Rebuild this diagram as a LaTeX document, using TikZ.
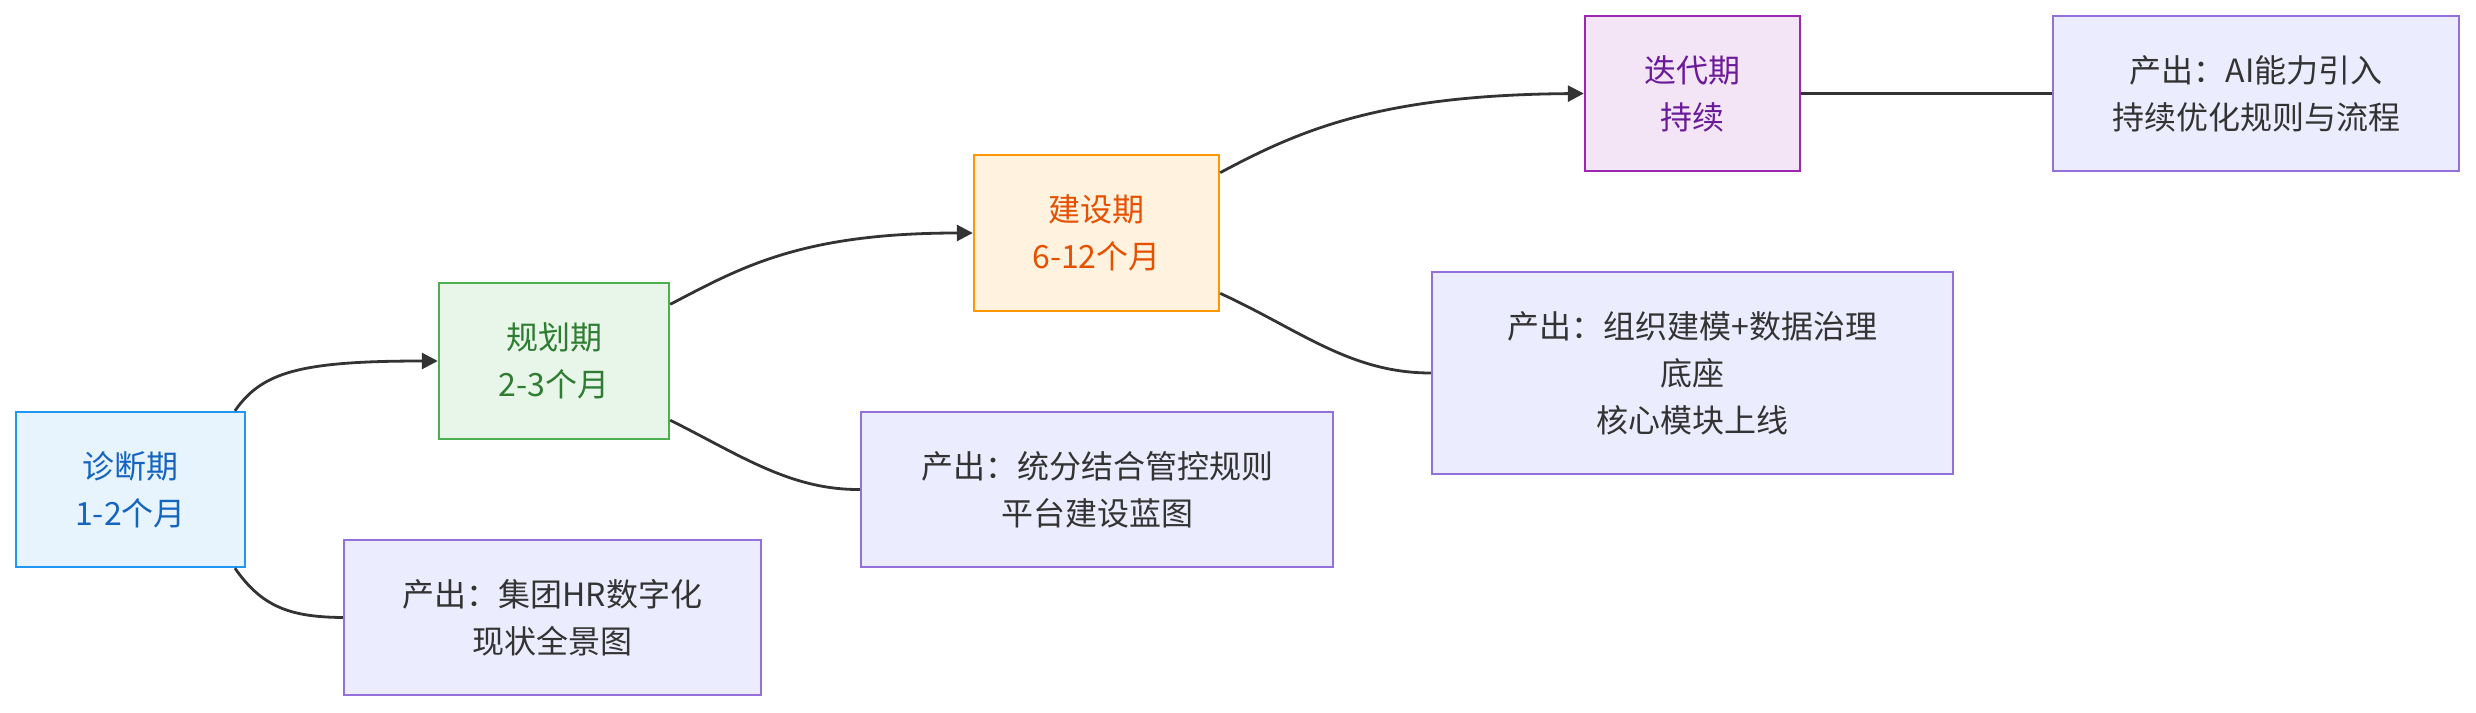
\documentclass[tikz,border=0pt]{standalone}
\usepackage{fontspec}
\setmainfont{Noto Sans CJK SC}
\usetikzlibrary{arrows.meta, positioning}

\definecolor{diagfill}{HTML}{E8F4FD}
\definecolor{diagline}{HTML}{2196F3}
\definecolor{diagtext}{HTML}{1565C0}
\definecolor{planfill}{HTML}{E8F5E9}
\definecolor{planline}{HTML}{4CAF50}
\definecolor{plantext}{HTML}{2E7D32}
\definecolor{buildfill}{HTML}{FFF3E0}
\definecolor{buildline}{HTML}{FF9800}
\definecolor{buildtext}{HTML}{E65100}
\definecolor{iterfill}{HTML}{F3E5F5}
\definecolor{iterline}{HTML}{9C27B0}
\definecolor{itertext}{HTML}{6A1B9A}
\definecolor{outfill}{HTML}{ECECFF}
\definecolor{outline}{HTML}{9370DB}
\definecolor{edge}{HTML}{333333}

\begin{document}
\begin{tikzpicture}[x=0.5pt, y=-0.5pt,
    every node/.style={font=\fontsize{16}{23.5}\selectfont, align=center, inner sep=0pt},
    phase/.style={draw, line width=1.2pt},
    output/.style={draw=outline, fill=outfill, text=edge, line width=1.2pt},
    flow/.style={draw=edge, line width=1.4pt, -{Triangle[length=8pt, width=8pt]}},
    link/.style={draw=edge, line width=1.4pt}]
    \useasboundingbox (0,0) rectangle (2476,712);

    % phases
    \node[phase, draw=diagline, fill=diagfill, text=diagtext, minimum width=114.5pt, minimum height=77.5pt] (diag) at (130.5,489.5) {诊断期\\1-2个月};
    \node[phase, draw=planline, fill=planfill, text=plantext, minimum width=115pt, minimum height=78pt] (plan) at (554,361) {规划期\\2-3个月};
    \node[phase, draw=buildline, fill=buildfill, text=buildtext, minimum width=122.5pt, minimum height=78pt] (build) at (1096.5,233) {建设期\\6-12个月};
    \node[phase, draw=iterline, fill=iterfill, text=itertext, minimum width=107.5pt, minimum height=77.5pt] (iter) at (1692.5,93.5) {迭代期\\持续};

    % outputs
    \node[output, minimum width=208.5pt, minimum height=77.5pt] (out1) at (552.5,617.5) {产出：集团HR数字化\\现状全景图};
    \node[output, minimum width=236pt, minimum height=77.5pt] (out2) at (1097,489.5) {产出：统分结合管控规则\\平台建设蓝图};
    \node[output, minimum width=260.5pt, minimum height=101pt] (out3) at (1692.5,373) {产出：组织建模+数据治理\\底座\\核心模块上线};
    \node[output, minimum width=203pt, minimum height=77.5pt] (out4) at (2256,93.5) {产出：AI能力引入\\持续优化规则与流程};

    \draw[flow] (diag.37) .. controls (262,372) and (300,361) .. (plan.west);
    \draw[link] (diag.-37) .. controls (262,607) and (290,617) .. (out1.west);

    \draw[flow] (plan.26) .. controls (740,268) and (800,233) .. (build.west);
    \draw[link] (plan.-27) .. controls (740,455) and (790,490) .. (out2.west);

    \draw[flow] (build.26) .. controls (1300,130) and (1380,95) .. (iter.west);
    \draw[link] (build.-26) .. controls (1300,330) and (1350,373) .. (out3.west);

    \draw[link] (iter.east) -- (out4.west);
\end{tikzpicture}
\end{document}
